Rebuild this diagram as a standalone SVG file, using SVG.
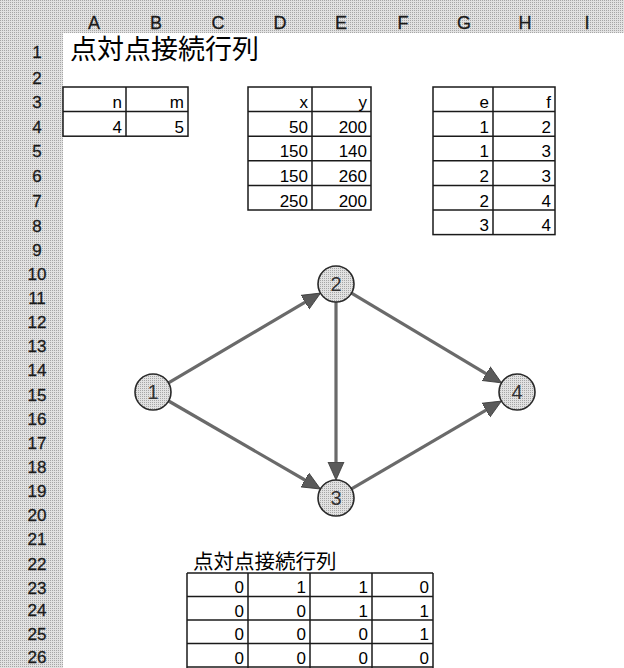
<svg xmlns="http://www.w3.org/2000/svg" width="624" height="668" viewBox="0 0 624 668">
<defs>
<pattern id="dots" width="2" height="2" patternUnits="userSpaceOnUse">
<rect width="2" height="2" fill="#e2e2e2"/>
<rect width="1" height="1" fill="#a6a6a6"/>
</pattern>
<marker id="arr" viewBox="0 0 18 18" refX="14" refY="9" markerWidth="18" markerHeight="18" markerUnits="userSpaceOnUse" orient="auto">
<path d="M0,1 L18,9 L0,17 z" fill="#5a5a5a" stroke="#3a3a3a" stroke-width="0.8"/>
</marker>
<style>
.hdr{font-family:"Liberation Sans",Arial,sans-serif;font-size:18px;fill:#1a1a1a;text-anchor:middle;stroke:#1a1a1a;stroke-width:0.3}
.rl{font-family:"Liberation Sans",Arial,sans-serif;font-size:17px;fill:#1a1a1a;text-anchor:middle;stroke:#1a1a1a;stroke-width:0.3}
.c{font-family:"Liberation Sans",Arial,sans-serif;font-size:17px;fill:#000;text-anchor:end}
.jp{font-family:"Liberation Sans","Noto Sans CJK JP",sans-serif;fill:#000}
.grid{stroke:#1a1a1a;stroke-width:1.5;fill:none}
.edge{stroke:#6a6a6a;stroke-width:3.2;fill:none;marker-end:url(#arr)}
.node{fill:url(#dots);stroke:#2a2a2a;stroke-width:1.6}
.nl{font-family:"Liberation Sans",Arial,sans-serif;font-size:20px;fill:#333;text-anchor:middle}
</style>
</defs>
<rect width="624" height="668" fill="#fff"/>
<g id="headers">
<rect x="0" y="0" width="624" height="33" fill="url(#dots)"/>
<rect x="0" y="0" width="63" height="668" fill="url(#dots)"/>
<text class="hdr" x="94" y="29">A</text>
<text class="hdr" x="156" y="29">B</text>
<text class="hdr" x="218" y="29">C</text>
<text class="hdr" x="280" y="29">D</text>
<text class="hdr" x="341" y="29">E</text>
<text class="hdr" x="403" y="29">F</text>
<text class="hdr" x="464" y="29">G</text>
<text class="hdr" x="525" y="29">H</text>
<text class="hdr" x="587" y="29">I</text>
<text class="rl" x="37" y="58">1</text>
<text class="rl" x="37" y="83.5">2</text>
<text class="rl" x="37" y="108.1">3</text>
<text class="rl" x="37" y="132.7">4</text>
<text class="rl" x="37" y="157.3">5</text>
<text class="rl" x="37" y="181.9">6</text>
<text class="rl" x="37" y="206.5">7</text>
<text class="rl" x="37" y="231.5">8</text>
<text class="rl" x="37" y="255.6">9</text>
<text class="rl" x="37" y="279.8">10</text>
<text class="rl" x="37" y="303.9">11</text>
<text class="rl" x="37" y="328.1">12</text>
<text class="rl" x="37" y="352.2">13</text>
<text class="rl" x="37" y="376.4">14</text>
<text class="rl" x="37" y="400.5">15</text>
<text class="rl" x="37" y="424.6">16</text>
<text class="rl" x="37" y="448.8">17</text>
<text class="rl" x="37" y="472.9">18</text>
<text class="rl" x="37" y="497.1">19</text>
<text class="rl" x="37" y="521.2">20</text>
<text class="rl" x="37" y="545.3">21</text>
<text class="rl" x="37" y="569.5">22</text>
<text class="rl" x="37" y="593.5">23</text>
<text class="rl" x="37" y="616">24</text>
<text class="rl" x="37" y="639.5">25</text>
<text class="rl" x="37" y="663">26</text>
</g>
<g id="title">
<text class="jp" x="70" y="59" font-size="27">点対点接続行列</text>
</g>
<g id="table-nm">
<rect class="grid" x="63" y="87" width="125" height="49.2"/>
<line class="grid" x1="63" y1="111.6" x2="188" y2="111.6"/>
<line class="grid" x1="126" y1="87" x2="126" y2="136.2"/>
<text class="c" x="122" y="108">n</text>
<text class="c" x="184" y="108">m</text>
<text class="c" x="122" y="132.7">4</text>
<text class="c" x="184" y="132.7">5</text>
</g>
<g id="table-xy">
<rect class="grid" x="248" y="87" width="123" height="123"/>
<line class="grid" x1="248" y1="111.6" x2="371" y2="111.6"/>
<line class="grid" x1="248" y1="136.2" x2="371" y2="136.2"/>
<line class="grid" x1="248" y1="160.8" x2="371" y2="160.8"/>
<line class="grid" x1="248" y1="185.4" x2="371" y2="185.4"/>
<line class="grid" x1="312" y1="87" x2="312" y2="210"/>
<text class="c" x="308" y="108">x</text>
<text class="c" x="367" y="108">y</text>
<text class="c" x="308" y="132.7">50</text>
<text class="c" x="367" y="132.7">200</text>
<text class="c" x="308" y="157.3">150</text>
<text class="c" x="367" y="157.3">140</text>
<text class="c" x="308" y="181.9">150</text>
<text class="c" x="367" y="181.9">260</text>
<text class="c" x="308" y="206.5">250</text>
<text class="c" x="367" y="206.5">200</text>
</g>
<g id="table-ef">
<rect class="grid" x="433" y="87" width="122" height="147.6"/>
<line class="grid" x1="433" y1="111.6" x2="555" y2="111.6"/>
<line class="grid" x1="433" y1="136.2" x2="555" y2="136.2"/>
<line class="grid" x1="433" y1="160.8" x2="555" y2="160.8"/>
<line class="grid" x1="433" y1="185.4" x2="555" y2="185.4"/>
<line class="grid" x1="433" y1="210" x2="555" y2="210"/>
<line class="grid" x1="493" y1="87" x2="493" y2="234.6"/>
<text class="c" x="489" y="108">e</text>
<text class="c" x="551" y="108">f</text>
<text class="c" x="489" y="132.7">1</text>
<text class="c" x="551" y="132.7">2</text>
<text class="c" x="489" y="157.3">1</text>
<text class="c" x="551" y="157.3">3</text>
<text class="c" x="489" y="181.9">2</text>
<text class="c" x="551" y="181.9">3</text>
<text class="c" x="489" y="206.5">2</text>
<text class="c" x="551" y="206.5">4</text>
<text class="c" x="489" y="231">3</text>
<text class="c" x="551" y="231">4</text>
</g>
<g id="connectors">
<line class="edge" x1="168.5" y1="382.9" x2="317.1" y2="295.1"/>
<line class="edge" x1="168.6" y1="401" x2="317" y2="487"/>
<line class="edge" x1="336" y1="302" x2="336" y2="476"/>
<line class="edge" x1="351.5" y1="293.2" x2="498.1" y2="380.8"/>
<line class="edge" x1="351.5" y1="488.9" x2="498" y2="403.1"/>
</g>
<g id="node-1">
<circle class="node" cx="153" cy="392" r="18"/>
<text class="nl" x="153" y="399">1</text>
</g>
<g id="node-2">
<circle class="node" cx="336" cy="284" r="18"/>
<text class="nl" x="336" y="291">2</text>
</g>
<g id="node-3">
<circle class="node" cx="336" cy="498" r="18"/>
<text class="nl" x="336" y="505">3</text>
</g>
<g id="node-4">
<circle class="node" cx="517" cy="392" r="18"/>
<text class="nl" x="517" y="399">4</text>
</g>
<g id="matrix">
<text class="jp" x="193" y="569" font-size="20.5">点対点接続行列</text>
<line class="grid" x1="187" y1="573" x2="433" y2="573"/>
<line class="grid" x1="187" y1="596.5" x2="433" y2="596.5"/>
<line class="grid" x1="187" y1="620" x2="433" y2="620"/>
<line class="grid" x1="187" y1="643.5" x2="433" y2="643.5"/>
<line class="grid" x1="187" y1="667" x2="433" y2="667"/>
<line class="grid" x1="187" y1="573" x2="187" y2="668"/>
<line class="grid" x1="248" y1="573" x2="248" y2="668"/>
<line class="grid" x1="310" y1="573" x2="310" y2="668"/>
<line class="grid" x1="372" y1="573" x2="372" y2="668"/>
<line class="grid" x1="433" y1="573" x2="433" y2="668"/>
<text class="c" x="244" y="593">0</text>
<text class="c" x="306" y="593">1</text>
<text class="c" x="368" y="593">1</text>
<text class="c" x="429" y="593">0</text>
<text class="c" x="244" y="616.5">0</text>
<text class="c" x="306" y="616.5">0</text>
<text class="c" x="368" y="616.5">1</text>
<text class="c" x="429" y="616.5">1</text>
<text class="c" x="244" y="640">0</text>
<text class="c" x="306" y="640">0</text>
<text class="c" x="368" y="640">0</text>
<text class="c" x="429" y="640">1</text>
<text class="c" x="244" y="663.5">0</text>
<text class="c" x="306" y="663.5">0</text>
<text class="c" x="368" y="663.5">0</text>
<text class="c" x="429" y="663.5">0</text>
</g>
</svg>
